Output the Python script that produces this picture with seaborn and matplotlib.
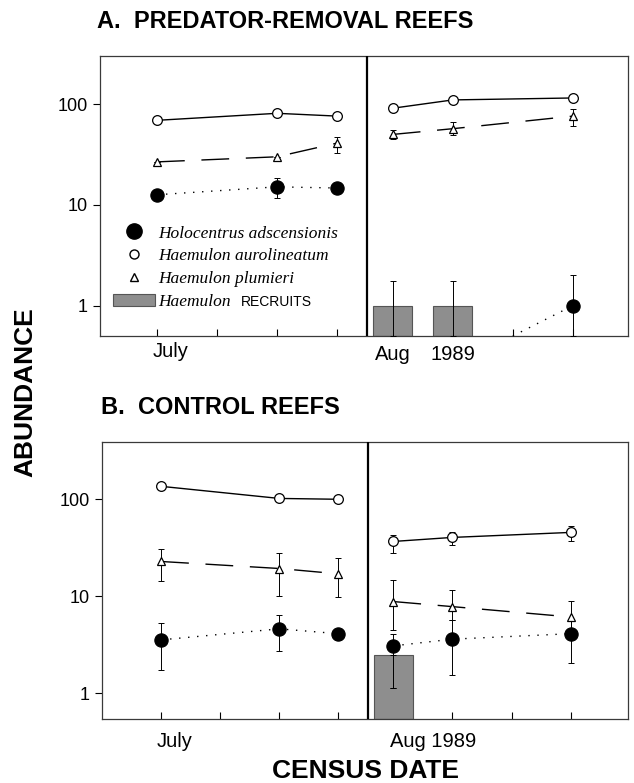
"""
Fish abundance on predator-removal vs control reefs (log scale), July and Aug 1989 censuses.
"""
import numpy as np
import matplotlib
matplotlib.use("Agg")
import matplotlib.pyplot as plt
from matplotlib.lines import Line2D
from matplotlib.patches import Patch
from matplotlib.ticker import NullLocator
import seaborn as sns

# census positions (weeks); first three = July block, last three = Aug 1989 block
census_weeks = [0, 2, 3, 3.93, 4.93, 6.93]
tick_weeks = [0, 1, 2, 3, 3.93, 4.93, 5.93, 6.93]
block_split = 3.5

# A. predator-removal reefs
a_aur = [69, 81, 76, 91, 110, 115]
a_plu = [26.7, 30, 41, 50, 57, 76]
a_plu_lo = [26.7, 30, 33, 45, 49, 60]
a_plu_hi = [26.7, 30, 47, 55, 66, 89]
a_hol = [12.6, 15.1, 14.7, np.nan, np.nan, 1.0]
a_hol_lo = [12.6, 11.7, 14.7, np.nan, np.nan, 0.5]
a_hol_hi = [12.6, 18.5, 14.7, np.nan, np.nan, 2.0]
# Holocentrus absent at the previous Aug census -> drawn on the axis floor
a_hol_zero_week = [5.93]
a_rec_weeks = [3.93, 4.93]
a_rec = [1.0, 1.0]
a_rec_lo = [0.5, 0.5]
a_rec_hi = [1.74, 1.74]

# B. control reefs
b_aur = [136, 102, 100, 36.7, 40.4, 45.5]
b_aur_lo = [136, 102, 100, 28, 34, 37]
b_aur_hi = [136, 102, 100, 43, 45.5, 52.5]
b_plu = [22.8, 19.3, 17, 8.8, 7.8, 6.1]
b_plu_lo = [14.4, 10.1, 9.9, 4.5, 5.7, 4.6]
b_plu_hi = [31, 28, 24.5, 14.8, 11.7, 9.0]
b_hol = [3.54, 4.6, 4.1, 3.07, 3.6, 4.1]
b_hol_lo = [1.73, 2.7, 3.5, 1.13, 1.54, 2.05]
b_hol_hi = [5.3, 6.4, 4.6, 4.1, 5.7, 5.5]
b_rec_weeks = [3.93]
b_rec = [2.5]
b_rec_lo = [1.13]
b_rec_hi = [2.5]

sns.set_theme(style="ticks")
plt.rcParams["font.family"] = ["Liberation Sans", "DejaVu Sans"]
plt.rcParams.update({"text.color": "black", "axes.labelcolor": "black",
                     "xtick.color": "black", "ytick.color": "black"})

SERIES = {
    "aur": dict(marker="o", ms=7, mfc="white", linestyle="-"),
    "plu": dict(marker="^", ms=6, mfc="white", linestyle=(0, (20, 12))),
    "hol": dict(marker="o", ms=9.5, mfc="black", linestyle=(0, (1.0, 5.5))),
}


def draw_series(ax, vals, lo, hi, kind):
    st = SERIES[kind]
    vals = np.asarray(vals, float)
    weeks = np.asarray(census_weeks, float)
    for blk in (slice(0, 3), slice(3, 6)):
        x, y = weeks[blk], vals[blk]
        ok = ~np.isnan(y)
        if ok.sum() == 0:
            continue
        sns.lineplot(x=x[ok], y=y[ok], ax=ax, color="black", lw=1.0,
                     linestyle=st["linestyle"], marker=st["marker"], ms=st["ms"],
                     mfc=st["mfc"], mec="black", mew=0.9, errorbar=None, zorder=4)
    if lo is not None:
        lo = np.asarray(lo, float)
        hi = np.asarray(hi, float)
        ok = ~np.isnan(vals)
        ax.errorbar(weeks[ok], vals[ok], yerr=[vals[ok] - lo[ok], hi[ok] - vals[ok]],
                    fmt="none", ecolor="black", elinewidth=0.7, capsize=2.5,
                    capthick=0.7, zorder=3)


def draw_recruits(ax, weeks, vals, lo, hi, floor):
    vals = np.asarray(vals, float)
    ax.bar(weeks, vals - floor, bottom=floor, width=0.65, color="#8e8e8e",
           edgecolor="#555555", linewidth=0.8, zorder=2)
    ax.errorbar(weeks, vals, yerr=[vals - np.asarray(lo), np.asarray(hi) - vals],
                fmt="none", ecolor="black", elinewidth=0.7, capsize=2.5,
                capthick=0.7, zorder=3)


def style_axes(ax, ylim, xlim):
    ax.set_yscale("log")
    ax.set_ylim(*ylim)
    ax.set_xlim(*xlim)
    ax.set_yticks([1, 10, 100])
    ax.set_yticklabels(["1", "10", "100"])
    ax.yaxis.set_minor_locator(NullLocator())
    ax.set_xticks(tick_weeks)
    ax.tick_params(axis="y", direction="out", length=5, width=0.8, labelsize=13, pad=4)
    ax.tick_params(axis="x", direction="in", length=5, width=0.8, labelbottom=False)
    for sp in ax.spines.values():
        sp.set_visible(True)
        sp.set_color("#3a3a3a")
        sp.set_linewidth(0.9)
    ax.axvline(block_split, color="black", lw=1.6, zorder=5)
    ax.set_xlabel("")
    ax.set_ylabel("")


def date_label(ax, x, text, ha="center", dy=-14):
    ax.annotate(text, xy=(x, 0), xycoords=ax.get_xaxis_transform(),
                xytext=(0, dy), textcoords="offset points", ha=ha, va="center",
                fontsize=14.5)


fig = plt.figure(figsize=(6.34, 7.83), dpi=100)
W, H = 634, 783
axA = fig.add_axes([100 / W, 1 - 336 / H, 528 / W, 280 / H])
axB = fig.add_axes([102 / W, 1 - 719 / H, 526 / W, 277 / H])

# ---- panel A
draw_recruits(axA, a_rec_weeks, a_rec, a_rec_lo, a_rec_hi, 0.5)
draw_series(axA, a_aur, None, None, "aur")
draw_series(axA, a_plu, a_plu_lo, a_plu_hi, "plu")
draw_series(axA, a_hol, a_hol_lo, a_hol_hi, "hol")
# dotted link from zero count (axis floor) to last census
axA.plot([a_hol_zero_week[0], census_weeks[5]], [0.5, a_hol[5]], color="black",
         lw=1.0, linestyle=SERIES["hol"]["linestyle"], zorder=3, clip_on=False)
style_axes(axA, (0.5, 300), (-0.95, 7.85))
date_label(axA, -0.07, "July", ha="left", dy=-11)
date_label(axA, tick_weeks[4], "Aug", dy=-13)
date_label(axA, tick_weeks[5], "1989", dy=-13)

handles = [
    Line2D([], [], ls="none", marker="o", ms=11, mfc="black", mec="black"),
    Line2D([], [], ls="none", marker="o", ms=6.5, mfc="white", mec="black", mew=1),
    Line2D([], [], ls="none", marker="^", ms=6, mfc="white", mec="black", mew=1),
    Patch(facecolor="#8e8e8e", edgecolor="#555555", lw=0.8),
]
labels = ["Holocentrus adscensionis", "Haemulon aurolineatum",
          "Haemulon plumieri", "Haemulon"]
leg = axA.legend(handles, labels, loc="upper left", bbox_to_anchor=(0.025, 0.395),
                 frameon=False, borderpad=0, handlelength=2.4, handletextpad=0.2,
                 labelspacing=0.38, borderaxespad=0,
                 prop=dict(family="Liberation Serif", style="italic", size=12.5))
axA.annotate("RECRUITS", xy=(1, 0.5), xycoords=leg.get_texts()[3],
             xytext=(7, 0), textcoords="offset points", va="center", fontsize=10,
             zorder=10)

# ---- panel B
draw_recruits(axB, b_rec_weeks, b_rec, b_rec_lo, b_rec_hi, 0.54)
draw_series(axB, b_aur, b_aur_lo, b_aur_hi, "aur")
draw_series(axB, b_plu, b_plu_lo, b_plu_hi, "plu")
draw_series(axB, b_hol, b_hol_lo, b_hol_hi, "hol")
style_axes(axB, (0.54, 390), (-1.0, 7.9))
date_label(axB, -0.07, "July", ha="left", dy=-16)
date_label(axB, 4.6, "Aug 1989", dy=-16)

# ---- titles and shared labels
fig.text(97 / W, 1 - 22 / H, "A.  PREDATOR-REMOVAL REEFS", fontsize=17,
         weight="bold", va="center", ha="left")
fig.text(101 / W, 1 - 408 / H, "B.  CONTROL REEFS", fontsize=17,
         weight="bold", va="center", ha="left")
fig.text(25 / W, 1 - 392 / H, "ABUNDANCE", fontsize=19, weight="bold",
         rotation=90, va="center", ha="center")
fig.text(365 / W, 1 - 771 / H, "CENSUS DATE", fontsize=19, weight="bold",
         va="center", ha="center")

fig.savefig("out.png", dpi=100)
